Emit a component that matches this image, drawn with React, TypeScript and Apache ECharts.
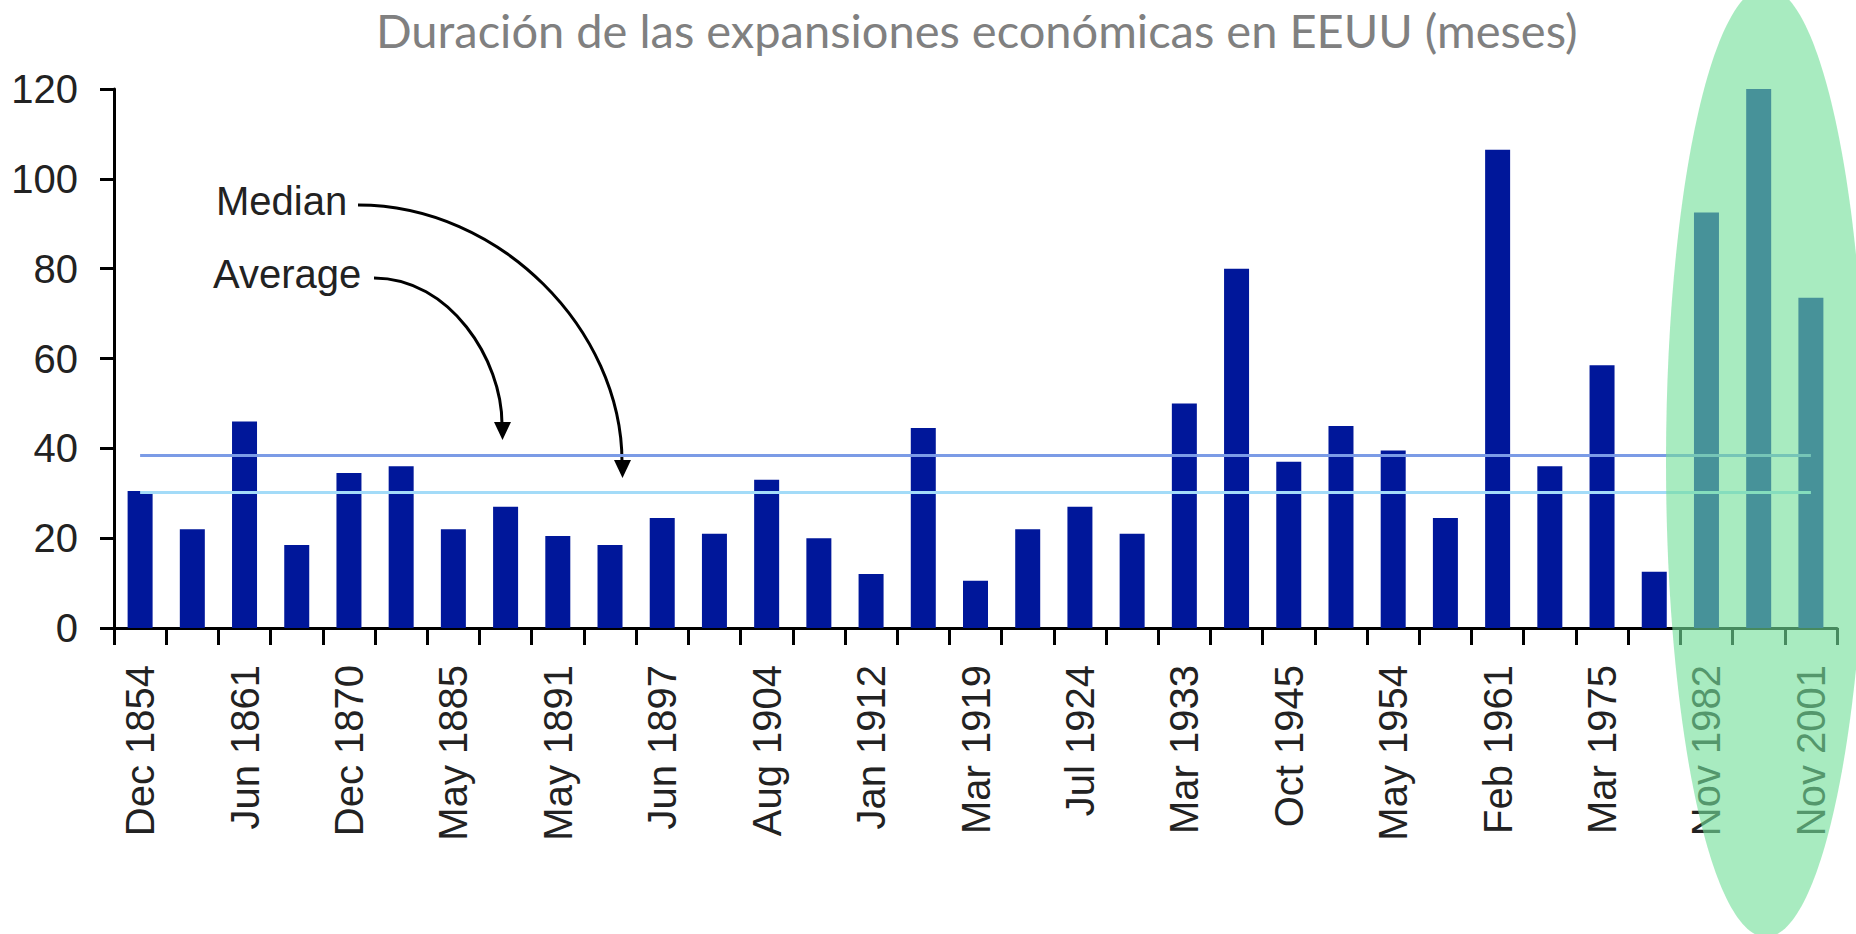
import React, { useEffect, useRef } from "react";
import * as echarts from "echarts";

const TITLE = "Duración de las expansiones económicas en EEUU (meses)";

const categories = [
  "Dec 1854", "Dec 1858", "Jun 1861", "Dec 1867", "Dec 1870", "Mar 1879",
  "May 1885", "Apr 1888", "May 1891", "Jun 1894", "Jun 1897", "Dec 1900",
  "Aug 1904", "Jun 1908", "Jan 1912", "Dec 1914", "Mar 1919", "Jul 1921",
  "Jul 1924", "Nov 1927", "Mar 1933", "Jun 1938", "Oct 1945", "Oct 1949",
  "May 1954", "Apr 1958", "Feb 1961", "Nov 1970", "Mar 1975", "Jul 1980",
  "Nov 1982", "Mar 1991", "Nov 2001",
];

const durations = [
  30.5, 22, 46, 18.5, 34.5, 36, 22, 27, 20.5, 18.5, 24.5, 21, 33, 20, 12,
  44.5, 10.5, 22, 27, 21, 50, 80, 37, 45, 39.5, 24.5, 106.5, 36, 58.5, 12.5,
  92.5, 120, 73.5,
];

const averageValue = 38.4;
const medianValue = 30.2;

const yTicks = { min: 0, max: 120, interval: 20 };

export default function App() {
  const ref = useRef<HTMLDivElement>(null);

  useEffect(() => {
    if (!ref.current) return;
    const chart = echarts.init(ref.current, null, { renderer: "svg" });
    const first = categories[0];
    const last = categories[categories.length - 1];
    const labelFont = "Liberation Sans, Arial, sans-serif";

    chart.setOption({
      animation: false,
      backgroundColor: "#ffffff",
      grid: { left: 114, right: 19, top: 89, bottom: 306, containLabel: false },
      xAxis: {
        type: "category",
        data: categories,
        boundaryGap: true,
        axisLine: { show: true, lineStyle: { color: "#000", width: 3 } },
        axisTick: {
          show: true,
          interval: 0,
          length: 17,
          lineStyle: { color: "#000", width: 3 },
        },
        axisLabel: {
          interval: 1,
          rotate: 90,
          margin: 37,
          fontSize: 40,
          fontFamily: labelFont,
          color: "#222",
        },
        splitLine: { show: false },
      },
      yAxis: {
        type: "value",
        min: yTicks.min,
        max: yTicks.max,
        interval: yTicks.interval,
        axisLine: { show: true, lineStyle: { color: "#000", width: 3 } },
        axisTick: { show: true, length: 14, lineStyle: { color: "#000", width: 3 } },
        axisLabel: {
          fontSize: 40,
          margin: 36,
          fontFamily: labelFont,
          color: "#222",
          padding: [0, 0, 12, 0],
        },
        splitLine: { show: false },
      },
      series: [
        {
          type: "bar",
          data: durations,
          barWidth: 25,
          itemStyle: { color: "#00179A" },
          markLine: {
            symbol: "none",
            silent: true,
            label: { show: false },
            data: [
              [
                { coord: [first, averageValue], lineStyle: { color: "#7B9BE6", width: 3, type: "solid" } },
                { coord: [last, averageValue] },
              ],
              [
                { coord: [first, medianValue], lineStyle: { color: "#A3DBF8", width: 3, type: "solid" } },
                { coord: [last, medianValue] },
              ],
            ],
          },
        },
      ],
      graphic: [
        {
          type: "text",
          x: 376,
          y: 30,
          style: {
            text: TITLE,
            font: '47px Lato, "Open Sans", sans-serif',
            fill: "#808080",
            verticalAlign: "middle",
          },
        },
        {
          type: "text",
          x: 216,
          y: 201,
          style: { text: "Median", font: "40px " + labelFont, fill: "#222", verticalAlign: "middle" },
        },
        {
          type: "text",
          x: 213,
          y: 274,
          style: { text: "Average", font: "40px " + labelFont, fill: "#222", verticalAlign: "middle" },
        },
        {
          type: "bezierCurve",
          shape: { x1: 358, y1: 205, cpx1: 500, cpy1: 205, cpx2: 622, cpy2: 330, x2: 622, y2: 462 },
          style: { stroke: "#000", lineWidth: 3, fill: null },
        },
        {
          type: "polygon",
          shape: { points: [[614, 460], [631, 460], [622.5, 478]] },
          style: { fill: "#000" },
        },
        {
          type: "bezierCurve",
          shape: { x1: 374, y1: 278, cpx1: 450, cpy1: 278, cpx2: 502, cpy2: 360, x2: 502, y2: 424 },
          style: { stroke: "#000", lineWidth: 3, fill: null },
        },
        {
          type: "polygon",
          shape: { points: [[494, 422], [511, 422], [502.5, 440]] },
          style: { fill: "#000" },
        },
        {
          type: "ellipse",
          z: 100,
          shape: { cx: 1766, cy: 462, rx: 100, ry: 475 },
          style: { fill: "rgba(115,223,153,0.62)" },
          silent: true,
        },
      ],
    });

    return () => {
      chart.dispose();
    };
  }, []);

  return (
    <div
      ref={ref}
      style={{ position: "fixed", left: 0, top: 0, width: 1856, height: 934, background: "#fff" }}
    />
  );
}
